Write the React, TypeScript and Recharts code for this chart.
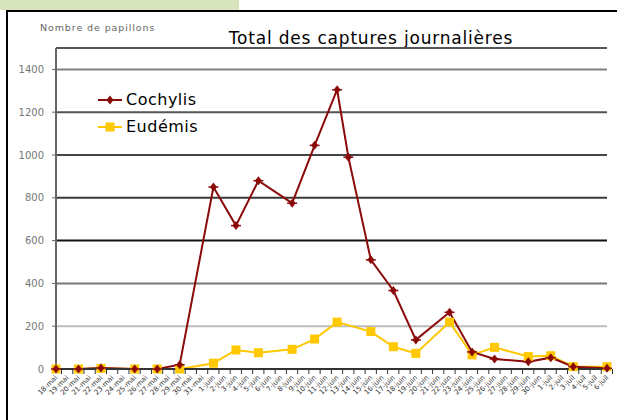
import { LineChart, Line, XAxis, YAxis, CartesianGrid, Legend } from "recharts";

// one label per day, 18 May -> 6 July
const DAY_LABELS = [
  "18-mai", "19-mai", "20-mai", "21-mai", "22-mai", "23-mai", "24-mai", "25-mai", "26-mai", "27-mai",
  "28-mai", "29-mai", "30-mai", "31-mai", "1-juin", "2-juin", "3-juin", "4-juin", "5-juin", "6-juin",
  "7-juin", "8-juin", "9-juin", "10-juin", "11-juin", "12-juin", "13-juin", "14-juin", "15-juin", "16-juin",
  "17-juin", "18-juin", "19-juin", "20-juin", "21-juin", "22-juin", "23-juin", "24-juin", "25-juin", "26-juin",
  "27-juin", "28-juin", "29-juin", "30-juin", "1-juil", "2-juil", "3-juil", "4-juil", "5-juil", "6-juil",
];

// trap readings (index into DAY_LABELS)
const COCHYLIS_DAYS = [0, 2, 4, 7, 9, 11, 14, 16, 18, 21, 23, 25, 26, 28, 30, 32, 35, 37, 39, 42, 44, 46, 49];
const COCHYLIS = [0, 0, 5, 0, 0, 20, 850, 670, 880, 775, 1045, 1305, 990, 510, 367, 136, 265, 80, 47, 34, 53, 11, 3];

const EUDEMIS_DAYS = [0, 2, 4, 7, 9, 11, 14, 16, 18, 21, 23, 25, 28, 30, 32, 35, 37, 39, 42, 44, 46, 49];
const EUDEMIS = [0, 0, 3, 0, 0, 0, 27, 89, 76, 92, 140, 219, 175, 104, 73, 219, 66, 101, 58, 62, 11, 11];

const Y_TICKS = [0, 200, 400, 600, 800, 1000, 1200, 1400];
const GRID_COLORS = ["#333", "#bbb", "#777", "#111", "#3a3a3a", "#444", "#555", "#808080"];

const RED = "#8b0a0a";
const YELLOW = "#ffc800";

const W = 617;
const H = 420;
const PLOT_LEFT = 56;
const PLOT_RIGHT = 607;
const BAND = (PLOT_RIGHT - PLOT_LEFT) / DAY_LABELS.length;

const data = DAY_LABELS.map((day, i) => {
  const c = COCHYLIS_DAYS.indexOf(i);
  const e = EUDEMIS_DAYS.indexOf(i);
  return {
    day,
    cochylis: c >= 0 ? COCHYLIS[c] : null,
    eudemis: e >= 0 ? EUDEMIS[e] : null,
  };
});

function DayTick({ x, y, payload }: any) {
  return (
    <g transform={`translate(${x},${y})`}>
      <line x1={BAND / 2} y1={0} x2={BAND / 2} y2={5} stroke="#333" />
      <text
        x={2}
        y={9}
        transform="rotate(-45 2 9)"
        textAnchor="end"
        fontSize={7}
        fill="#333"
        fontFamily="DejaVu Sans"
      >
        {payload.value}
      </text>
    </g>
  );
}

function CochylisDot({ cx, cy }: any) {
  if (cx == null || cy == null) return null;
  return (
    <g>
      <path d={`M${cx},${cy - 4.5}L${cx + 3.5},${cy}L${cx},${cy + 4.5}L${cx - 3.5},${cy}Z`} fill={RED} />
      <line x1={cx - 5} y1={cy} x2={cx + 5} y2={cy} stroke={RED} strokeWidth={1.5} />
    </g>
  );
}

function EudemisDot({ cx, cy }: any) {
  if (cx == null || cy == null) return null;
  return <rect x={cx - 4.5} y={cy - 4.5} width={9} height={9} fill={YELLOW} />;
}

function GridLine(props: any) {
  const { x1, x2, y1, y2, index } = props;
  return (
    <line
      key={`g-${index}`}
      x1={x1}
      x2={x2}
      y1={y1}
      y2={y2}
      stroke={GRID_COLORS[index] ?? "#555"}
      strokeWidth={2}
    />
  );
}

function LegendBox() {
  const rows = [
    { name: "Cochylis", color: RED, dot: "diamond" },
    { name: "Eudémis", color: YELLOW, dot: "square" },
  ];
  return (
    <div>
      {rows.map((r) => (
        <div key={r.name} style={{ display: "flex", alignItems: "center", height: 27 }}>
          <svg width={28} height={12}>
            <line x1={0} y1={6} x2={24} y2={6} stroke={r.color} strokeWidth={2} />
            {r.dot === "diamond" ? (
              <path d="M12,1.5L15.5,6L12,10.5L8.5,6Z" fill={r.color} />
            ) : (
              <rect x={7.5} y={1.5} width={9} height={9} fill={r.color} />
            )}
          </svg>
          <span style={{ fontSize: 16, color: "#000", fontFamily: "DejaVu Sans", letterSpacing: 0.5 }}>
            {r.name}
          </span>
        </div>
      ))}
    </div>
  );
}

export default function App() {
  return (
    <div
      style={{
        position: "absolute",
        left: 0,
        top: 0,
        width: W,
        height: H,
        background: "#fff",
        overflow: "hidden",
        fontFamily: "DejaVu Sans",
      }}
    >
      <div style={{ position: "absolute", left: 0, top: 0, width: 239, height: 10, background: "#d8e4bc" }} />
      <div style={{ position: "absolute", left: 6, top: 10, width: W - 6, height: 2, background: "#000" }} />
      <div style={{ position: "absolute", left: 6, top: 10, width: 2, height: H - 10, background: "#000" }} />

      <div
        style={{
          position: "absolute",
          left: 40,
          top: 22,
          fontSize: 9.5,
          color: "#666",
          letterSpacing: 0.9,
        }}
      >
        Nombre de papillons
      </div>
      <div
        style={{
          position: "absolute",
          left: 216,
          top: 28,
          width: 310,
          textAlign: "center",
          fontSize: 17,
          letterSpacing: 0.8,
          color: "#000",
        }}
      >
        Total des captures journalières
      </div>

      <div style={{ position: "absolute", left: 0, top: 0 }}>
        <LineChart
          width={W}
          height={H}
          data={data}
          margin={{ top: 48, right: W - PLOT_RIGHT, left: 0, bottom: 11 }}
        >
          <CartesianGrid vertical={false} horizontal={GridLine as any} />
          <XAxis
            dataKey="day"
            interval={0}
            height={40}
            tickSize={0}
            tickMargin={0}
            tick={<DayTick />}
            axisLine={{ stroke: "#333", strokeWidth: 2 }}
          />
          <YAxis
            domain={[0, 1500]}
            ticks={Y_TICKS}
            width={PLOT_LEFT}
            tickSize={4}
            tickMargin={8}
            axisLine={{ stroke: "#666", strokeWidth: 2 }}
            tickLine={{ stroke: "#666" }}
            tick={{ fontSize: 10, fill: "#777", fontFamily: "DejaVu Sans" }}
          />
          <Legend
            layout="vertical"
            verticalAlign="middle"
            align="center"
            content={<LegendBox />}
            wrapperStyle={{ left: 98, top: 86, width: 140 }}
          />
          <Line
            dataKey="eudemis"
            name="Eudémis"
            stroke={YELLOW}
            strokeWidth={2}
            connectNulls
            dot={<EudemisDot />}
            activeDot={false}
            isAnimationActive={false}
          />
          <Line
            dataKey="cochylis"
            name="Cochylis"
            stroke={RED}
            strokeWidth={2}
            connectNulls
            dot={<CochylisDot />}
            activeDot={false}
            isAnimationActive={false}
          />
        </LineChart>
      </div>
    </div>
  );
}
